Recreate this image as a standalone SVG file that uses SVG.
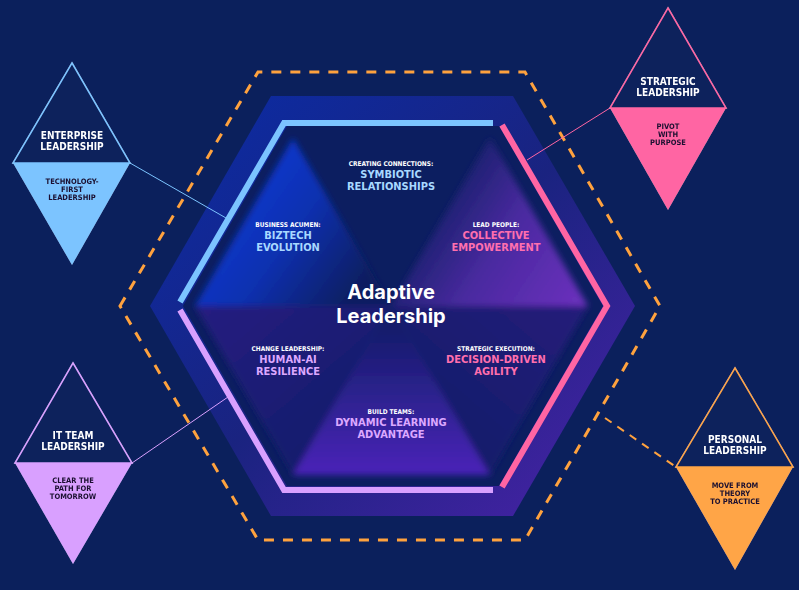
<svg xmlns="http://www.w3.org/2000/svg" width="799" height="590" viewBox="0 0 799 590">
<defs>
<linearGradient id="outer" x1="0" y1="0" x2="1" y2="1">
<stop offset="0" stop-color="#0a2ca6"/><stop offset="0.5" stop-color="#1a2380"/><stop offset="1" stop-color="#4a22a8"/>
</linearGradient>
<linearGradient id="tl" x1="0.1" y1="0.3" x2="0.9" y2="0.8"><stop offset="0" stop-color="#0a3ad6"/><stop offset="0.5" stop-color="#0a30b0"/><stop offset="1" stop-color="#0c1e60"/></linearGradient>
<linearGradient id="tr" x1="0.1" y1="0.4" x2="1" y2="0.9"><stop offset="0" stop-color="#0c1e60"/><stop offset="0.5" stop-color="#4a2aa0"/><stop offset="1" stop-color="#6a30bc"/></linearGradient>
<linearGradient id="bm" x1="0" y1="0" x2="0" y2="1"><stop offset="0" stop-color="#0c1e60"/><stop offset="1" stop-color="#4a22b8"/></linearGradient>
<linearGradient id="dl" x1="0" y1="0" x2="1" y2="1"><stop offset="0" stop-color="#261f80"/><stop offset="1" stop-color="#0e1f66"/></linearGradient>
<linearGradient id="dr" x1="1" y1="0" x2="0" y2="1"><stop offset="0" stop-color="#251f7a"/><stop offset="1" stop-color="#0e1f66"/></linearGradient>
<filter id="glow" x="-20%" y="-20%" width="140%" height="140%"><feGaussianBlur in="SourceAlpha" stdDeviation="2.5"/><feFlood flood-color="#ffffff" flood-opacity="0.35"/><feComposite operator="in" in2="SourceAlpha"/><feMerge><feMergeNode/><feMergeNode in="SourceGraphic"/></feMerge></filter>
<filter id="soft"><feGaussianBlur stdDeviation="3"/></filter>
</defs>
<style>
.cap{font-family:"DejaVu Sans",sans-serif;font-stretch:condensed;font-weight:bold;font-size:6.5px;fill:#ffffff;text-anchor:middle}
.lab{font-family:"DejaVu Sans",sans-serif;font-stretch:condensed;font-weight:bold;font-size:11px;text-anchor:middle}
.dt{font-family:"DejaVu Sans",sans-serif;font-stretch:condensed;font-weight:bold;font-size:10px;fill:#ffffff;text-anchor:middle}
.db{font-family:"DejaVu Sans",sans-serif;font-stretch:condensed;font-weight:bold;font-size:7.5px;fill:#1a1030;text-anchor:middle}
.blue{fill:#a8d8ff}.pink{fill:#ff6fae}.lav{fill:#dca8ff}
.dash{fill:none;stroke:#ffa23e;stroke-width:3;stroke-dasharray:10 9}
</style>
<rect width="799" height="590" fill="#0b205c"/>
<g id="frame">
<polygon class="dash" points="120,306 258,72 525,72 660,306 525,540 258,540"/>
<polygon points="150,306 271,96 513,96 635,306 513,516 271,516" fill="url(#outer)"/>
<polygon points="183,306 287,126 499,126 603,306 499,486 287,486" fill="#0c1e60"/>
<g filter="url(#soft)">
<polygon points="195,306 293,138 391,306" fill="url(#tl)"/>
<polygon points="391,306 490,138 588,306" fill="url(#tr)"/>
<polygon points="195,306 391,306 293,475" fill="url(#dl)"/>
<polygon points="391,306 293,475 490,475" fill="url(#bm)"/>
<polygon points="391,306 588,306 490,475" fill="url(#dr)"/>
</g>
<polyline points="180,302 284,123 493,123" fill="none" stroke="#7cc4ff" stroke-width="6"/>
<polyline points="502,125 607,306 502,487" fill="none" stroke="#ff65a3" stroke-width="6"/>
<polyline points="180,310 284,490 493,490" fill="none" stroke="#d9a0ff" stroke-width="6"/>
<text x="391" y="299" font-family="Inter, 'Open Sans', sans-serif" font-weight="bold" font-size="20" fill="#ffffff" text-anchor="middle">Adaptive</text>
<text x="391" y="323" font-family="Inter, 'Open Sans', sans-serif" font-weight="bold" font-size="20" fill="#ffffff" text-anchor="middle">Leadership</text>
</g>
<g id="symbiotic"><text class="cap" x="391" y="166">CREATING CONNECTIONS:</text><text class="lab blue" x="391" y="178">SYMBIOTIC</text><text class="lab blue" x="391" y="190">RELATIONSHIPS</text></g>
<g id="biztech"><text class="cap" x="288" y="227">BUSINESS ACUMEN:</text><text class="lab blue" x="288" y="239">BIZTECH</text><text class="lab blue" x="288" y="251">EVOLUTION</text></g>
<g id="collective"><text class="cap" x="496" y="227">LEAD PEOPLE:</text><text class="lab pink" x="496" y="239">COLLECTIVE</text><text class="lab pink" x="496" y="251">EMPOWERMENT</text></g>
<g id="humanai"><text class="cap" x="288" y="351">CHANGE LEADERSHIP:</text><text class="lab lav" x="288" y="363">HUMAN-AI</text><text class="lab lav" x="288" y="375">RESILIENCE</text></g>
<g id="decision"><text class="cap" x="496" y="351">STRATEGIC EXECUTION:</text><text class="lab pink" x="496" y="363">DECISION-DRIVEN</text><text class="lab pink" x="496" y="375">AGILITY</text></g>
<g id="dynamic"><text class="cap" x="391" y="414">BUILD TEAMS:</text><text class="lab lav" x="391" y="426">DYNAMIC LEARNING</text><text class="lab lav" x="391" y="438">ADVANTAGE</text></g>
<g id="connectors" fill="none">
<line x1="130" y1="163" x2="226" y2="218" stroke="#7cc4ff" stroke-width="1"/>
<line x1="132" y1="463" x2="228" y2="397" stroke="#d9a0ff" stroke-width="1"/>
<line x1="610" y1="108" x2="527" y2="160" stroke="#ff65a3" stroke-width="1"/>
<line x1="605" y1="418" x2="676" y2="467" stroke="#ffa23e" stroke-width="2" stroke-dasharray="8 7"/>
</g>
<g id="enterprise" filter="url(#glow)">
<polygon points="13,163 130,163 72,265" fill="#7cc4ff"/>
<polygon points="72,63 130,163 13,163" fill="#0b205c" stroke="#7cc4ff" stroke-width="1.5"/>
<text class="dt" x="72" y="139">ENTERPRISE</text><text class="dt" x="72" y="150">LEADERSHIP</text>
<text class="db" x="72" y="184">TECHNOLOGY-</text><text class="db" x="72" y="192">FIRST</text><text class="db" x="72" y="200">LEADERSHIP</text>
</g>
<g id="itteam" filter="url(#glow)">
<polygon points="15,463 132,463 73,564" fill="#d9a0ff"/>
<polygon points="73,363 132,463 15,463" fill="#0b205c" stroke="#d9a0ff" stroke-width="1.5"/>
<text class="dt" x="73" y="439">IT TEAM</text><text class="dt" x="73" y="450">LEADERSHIP</text>
<text class="db" x="73" y="483">CLEAR THE</text><text class="db" x="73" y="491">PATH FOR</text><text class="db" x="73" y="499">TOMORROW</text>
</g>
<g id="strategic" filter="url(#glow)">
<polygon points="610,108 726,108 668,210" fill="#ff65a3"/>
<polygon points="668,8 726,108 610,108" fill="#0b205c" stroke="#ff65a3" stroke-width="1.5"/>
<text class="dt" x="668" y="85">STRATEGIC</text><text class="dt" x="668" y="96">LEADERSHIP</text>
<text class="db" x="668" y="129">PIVOT</text><text class="db" x="668" y="137">WITH</text><text class="db" x="668" y="145">PURPOSE</text>
</g>
<g id="personal" filter="url(#glow)">
<polygon points="676,467 793,467 735,570" fill="#ffa546"/>
<polygon points="735,368 793,467 676,467" fill="#0b205c" stroke="#ffa546" stroke-width="1.5"/>
<text class="dt" x="735" y="443">PERSONAL</text><text class="dt" x="735" y="454">LEADERSHIP</text>
<text class="db" x="735" y="488">MOVE FROM</text><text class="db" x="735" y="496">THEORY</text><text class="db" x="735" y="504">TO PRACTICE</text>
</g>
</svg>
